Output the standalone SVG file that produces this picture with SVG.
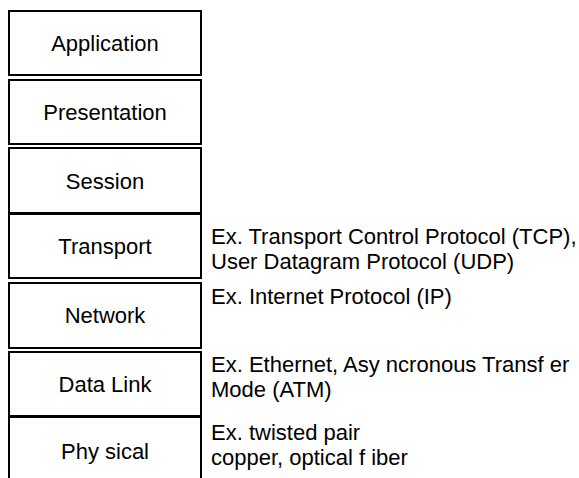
<svg xmlns="http://www.w3.org/2000/svg" width="579" height="478" viewBox="0 0 579 478">
<style>
.box{fill:#fff;stroke:#000;stroke-width:2}
.lbl{font-family:"Liberation Sans",Arial,sans-serif;font-size:22px;fill:#000;text-anchor:middle}
.note{font-family:"Liberation Sans",Arial,sans-serif;font-size:22px;fill:#000}
</style>
<rect width="579" height="478" fill="#fff"/>
<g id="application"><rect class="box" x="9" y="11" width="192" height="64"/><text class="lbl" x="105" y="51">Application</text></g>
<g id="presentation"><rect class="box" x="9" y="80" width="192" height="64"/><text class="lbl" x="105" y="120">Presentation</text></g>
<g id="session"><rect class="box" x="9" y="148" width="192" height="65"/><text class="lbl" x="105" y="189">Session</text></g>
<g id="transport"><rect class="box" x="9" y="214" width="192" height="64"/><text class="lbl" x="105" y="254">Transport</text>
<text class="note" x="211" y="244">Ex. Transport Control Protocol (TCP),</text><text class="note" x="211" y="269">User Datagram Protocol (UDP)</text></g>
<g id="network"><rect class="box" x="9" y="283" width="192" height="65"/><text class="lbl" x="105" y="323">Network</text>
<text class="note" x="211" y="304">Ex. Internet Protocol (IP)</text></g>
<g id="datalink"><rect class="box" x="9" y="352" width="192" height="64"/><text class="lbl" x="105" y="392">Data Link</text>
<text class="note" x="211" y="372">Ex. Ethernet, Asy ncronous Transf er</text><text class="note" x="211" y="397">Mode (ATM)</text></g>
<g id="physical"><rect class="box" x="9" y="417" width="192" height="80"/><text class="lbl" x="105" y="459">Phy sical</text>
<text class="note" x="211" y="440">Ex. twisted pair</text><text class="note" x="211" y="465">copper, optical f iber</text></g>
<g id="connectors"></g>
</svg>
